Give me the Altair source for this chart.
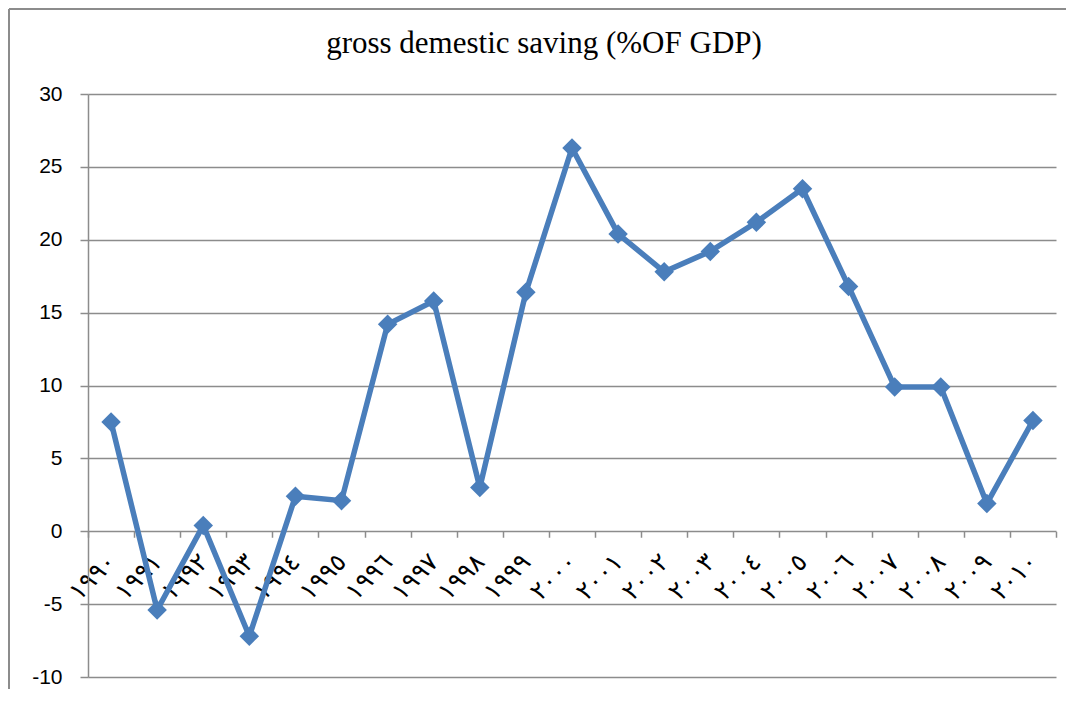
import altair as alt
import pandas as pd

# ---- data ----
years = ["١٩٩٠", "١٩٩١", "١٩٩٢", "١٩٩٣", "١٩٩٤", "١٩٩٥", "١٩٩٦", "١٩٩٧",
         "١٩٩٨", "١٩٩٩", "٢٠٠٠", "٢٠٠١", "٢٠٠٢", "٢٠٠٣", "٢٠٠٤", "٢٠٠٥",
         "٢٠٠٦", "٢٠٠٧", "٢٠٠٨", "٢٠٠٩", "٢٠١٠"]
values = [7.5, -5.4, 0.4, -7.2, 2.4, 2.1, 14.2, 15.8, 3.0, 16.4, 26.3,
          20.4, 17.8, 19.2, 21.2, 23.5, 16.8, 9.9, 9.9, 1.9, 7.6]
y_ticks = [-10, -5, 0, 5, 10, 15, 20, 25, 30]
title_text = ["gross demestic saving (%OF GDP)"]

df = pd.DataFrame({"year": years, "value": values})
tdf = pd.DataFrame({"t": title_text})

W, H = 968, 583
GRAY = "#8c8c8c"
BLUE = "#4A7EBB"
zero_offset = -(H - H * 30 / 40)

x_enc = alt.X(
    "year:N", sort=None, bandPosition=0.5,
    scale=alt.Scale(type="band", paddingInner=0, paddingOuter=0),
    axis=alt.Axis(title=None, labelAngle=-45, labelAlign="right",
                  labelBaseline="middle", labelFont="DejaVu Sans",
                  labelFontSize=25, labelColor="black", labelOverlap=False,
                  tickBand="extent", tickSize=6, tickColor=GRAY, tickWidth=1.5,
                  domain=False, grid=False, offset=zero_offset,
                  labelPadding=20),
)
y_enc = alt.Y(
    "value:Q",
    scale=alt.Scale(domain=[-10, 30], nice=False, zero=False),
    axis=alt.Axis(title=None, values=y_ticks, labelFont="Liberation Sans",
                  labelFontSize=21, labelColor="black", labelExpr="'' + datum.value",
                  tickSize=8, tickColor=GRAY, tickWidth=1.5,
                  grid=True, gridColor=GRAY, gridWidth=1.5,
                  domainColor=GRAY, domainWidth=1.5, labelPadding=18),
)

base = alt.Chart(df)
line = base.mark_line(color=BLUE, strokeWidth=5.5).encode(x=x_enc, y=y_enc)
pts = base.mark_point(shape="diamond", filled=True, size=380, opacity=1,
                      color=BLUE).encode(x=x_enc, y=y_enc)

title = alt.Chart(tdf).mark_text(font="Liberation Serif", fontSize=31,
                                 color="black", baseline="alphabetic",
                                 align="center").encode(
    x=alt.value(456), y=alt.value(-41), text="t:N")

frame_left = alt.Chart(tdf).mark_rule(color=GRAY, strokeWidth=2).encode(
    x=alt.value(-79), y=alt.value(-85), y2=alt.value(H + 100))
frame_top = alt.Chart(tdf).mark_rule(color=GRAY, strokeWidth=2).encode(
    x=alt.value(-79), x2=alt.value(W + 100), y=alt.value(-85))

chart = alt.layer(line, pts, title, frame_left, frame_top).properties(
    width=W, height=H,
    autosize=alt.AutoSizeParams(type="none"),
    padding={"left": 80, "top": 86, "right": 10, "bottom": 12},
).configure_view(stroke=None)

chart.save("out.html", embed_options={"renderer": "svg", "actions": False})
